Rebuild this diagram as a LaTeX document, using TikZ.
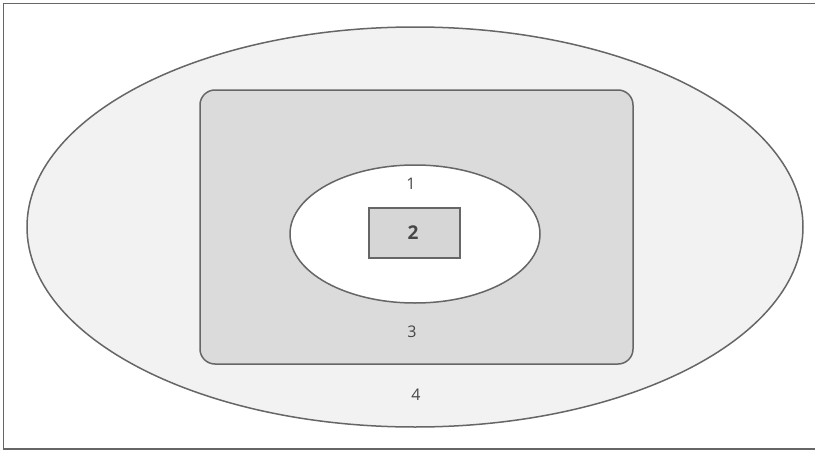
\documentclass[tikz,border=0pt]{standalone}
\usepackage{fontspec}
\setmainfont{Open Sans}
\begin{document}
\begin{tikzpicture}[x=1pt,y=-1pt,
  outline/.style={draw=black!60,line width=1.5pt},
  lbl/.style={text=black!72,font=\fontsize{16}{16}\selectfont,inner sep=0pt}]
\useasboundingbox (0,0) rectangle (815,450);
% frame on the top, left and bottom sides
\draw[black!60,line width=1.2pt] (815,3.5) -- (3.5,3.5) -- (3.5,449) -- (815,449);
% outer region 4
\draw[outline,fill=black!5] (415,227) ellipse [x radius=388,y radius=200];
% region 3
\draw[outline,fill=black!14,rounded corners=15pt] (200,90) rectangle (633,364);
% region 1
\draw[outline,fill=white] (415,234) ellipse [x radius=125,y radius=69];
% region 2
\draw[outline,fill=black!16] (369,208) rectangle (460,258);
\node[lbl] (n1) at (411,184) {1};
\node[lbl,font=\fontsize{19}{19}\selectfont\bfseries] (n2) at (413,233) {2};
\node[lbl] (n3) at (412,332) {3};
\node[lbl] (n4) at (416,395) {4};
\end{tikzpicture}
\end{document}
